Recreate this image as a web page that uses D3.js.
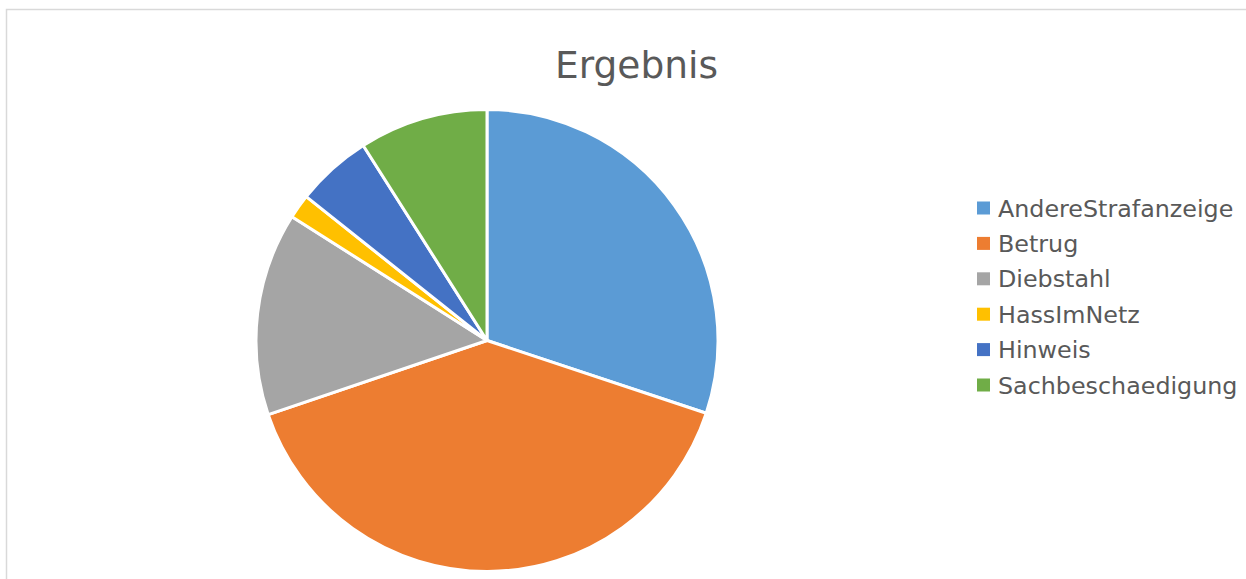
<!DOCTYPE html>
<html>
<head>
<meta charset="utf-8">
<script src="https://cdn.jsdelivr.net/npm/d3@7"></script>
<style>
body { margin: 0; background: #fff; }
text { font-family: "DejaVu Sans", sans-serif; fill: #595959; }
</style>
</head>
<body>
<script>

// values (share of the pie, per mille)
var categories = ["AndereStrafanzeige", "Betrug", "Diebstahl", "HassImNetz", "Hinweis", "Sachbeschaedigung"]
var counts = [301, 397, 142, 17, 53, 90]
var colors = ["#5B9BD5", "#ED7D31", "#A5A5A5", "#FFC000", "#4472C4", "#70AD47"]

var width = 1246, height = 579

var svg = d3.select("body").append("svg").attr("width", width).attr("height", height)

// chart area frame, runs off the right and bottom edge
svg.append("rect")
.attr("x", 6.5).attr("y", 9.5)
.attr("width", 1300).attr("height", 700)
.attr("fill", "#fff")
.attr("stroke", "#d9d9d9")
.attr("stroke-width", 1.5)

svg.append("text")
.attr("x", 636.5).attr("y", 78)
.attr("text-anchor", "middle")
.attr("font-size", "37.5px")
.text("Ergebnis")

var data = categories.map(function(c, i) { return {name: c, value: counts[i]} })

var color = d3.scaleOrdinal().domain(categories).range(colors)

var pie = d3.pie().sort(null).value(function(d) { return d.value })
var arc = d3.arc().innerRadius(0).outerRadius(231)

var g = svg.append("g").attr("transform", "translate(487,340.5)")

g.selectAll("path")
.data(pie(data))
.enter().append("path")
.attr("d", arc)
.attr("fill", function(d) { return color(d.data.name) })
.attr("stroke", "#fff")
.attr("stroke-width", 3)
.attr("stroke-linejoin", "round")

var legend = svg.selectAll(".legend").data(categories)
.enter().append("g")
.attr("class", "legend")
.attr("transform", function(d, i) { return "translate(977," + (208 + i * 35.4) + ")" })

legend.append("rect")
.attr("x", 0).attr("y", -6.5)
.attr("width", 13).attr("height", 13)
.attr("fill", function(d) { return color(d) })

legend.append("text")
.attr("x", 21).attr("y", 8.5)
.attr("font-size", "23.8px")
.text(function(d) { return d })

</script>
</body>
</html>
